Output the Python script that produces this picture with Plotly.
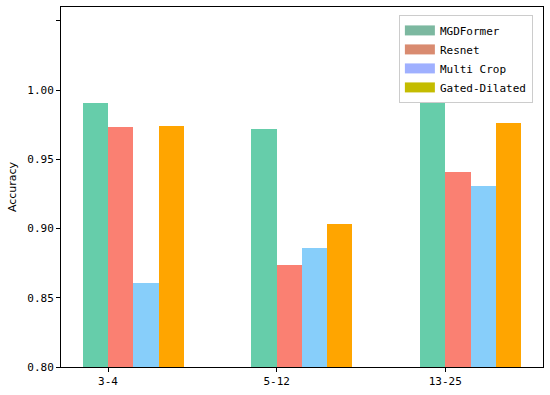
import plotly.graph_objects as go

categories = ["3-4", "5-12", "13-25"]
series_names = ["MGDFormer", "Resnet", "Multi Crop", "Gated-Dilated"]
mgdformer = [0.991, 0.972, 0.991]
resnet = [0.973, 0.874, 0.941]
multi_crop = [0.861, 0.886, 0.931]
gated_dilated = [0.974, 0.903, 0.976]
series_values = [mgdformer, resnet, multi_crop, gated_dilated]

bar_colors = ["#66CDAA", "#FA8072", "#87CEFA", "#FFA500"]
legend_colors = ["#7CB8A0", "#D98B70", "#9FB0FF", "#C4BC00"]

ytick_vals = [0.80, 0.85, 0.90, 0.95, 1.00, 1.05]
ytick_text = ["0.80", "0.85", "0.90", "0.95", "1.00", ""]

FONT = "DejaVu Sans Mono"
w = 0.15
fig = go.Figure()
pos = list(range(len(categories)))
for k, (name, vals) in enumerate(zip(series_names, series_values)):
    fig.add_trace(go.Bar(
        x=[p + (k - 0.5) * w for p in pos], y=vals, width=w,
        marker=dict(color=bar_colors[k], line=dict(width=0)),
        name=name, showlegend=False,
    ))
for k, name in enumerate(series_names):
    fig.add_trace(go.Scatter(x=[None], y=[None], name=name, mode="lines",
                             line=dict(color=legend_colors[k], width=10)))

fig.update_layout(
    width=550, height=395,
    margin=dict(l=61, r=7, t=7, b=28),
    barmode="overlay",
    plot_bgcolor="white", paper_bgcolor="white",
    font=dict(family=FONT, size=11, color="black"),
    xaxis=dict(range=[-0.279, 2.58], tickvals=pos, ticktext=categories,
               showline=True, linecolor="black", linewidth=1, mirror=True,
               ticks="outside", ticklen=4, tickcolor="black", showgrid=False,
               zeroline=False),
    yaxis=dict(range=[0.80, 1.06], tickvals=ytick_vals, ticktext=ytick_text,
               showline=True, linecolor="black", linewidth=1, mirror=True,
               ticks="outside", ticklen=4, tickcolor="black", showgrid=False,
               zeroline=False,
               title=dict(text="Accuracy", font=dict(family="DejaVu Sans", size=11), standoff=8)),
    legend=dict(x=0.701, y=0.978, xanchor="left", yanchor="top",
                bordercolor="#CCCCCC", borderwidth=1, bgcolor="rgba(255,255,255,0.8)",
                font=dict(family=FONT, size=11), tracegroupgap=0),
    bargap=0,
)
fig.write_html("out.html", config={"displayModeBar": False},
               post_script="document.body.style.margin='0';")
